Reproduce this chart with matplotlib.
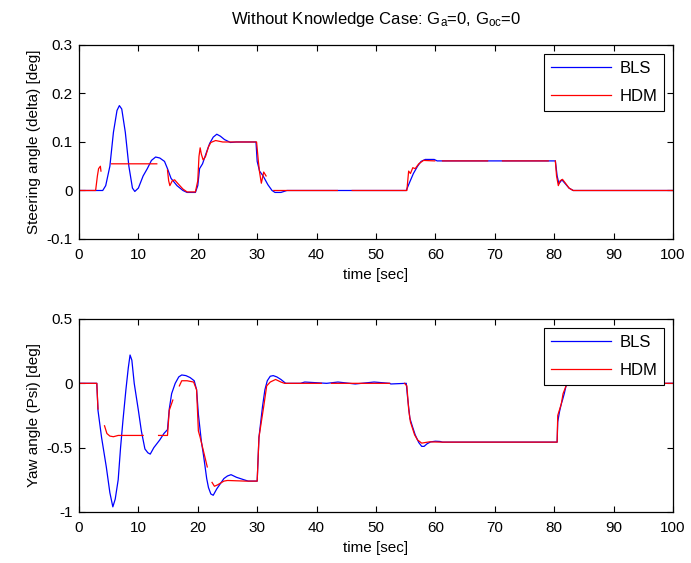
import numpy as np
import matplotlib.pyplot as plt

plt.rcParams['font.family'] = ['Liberation Sans', 'DejaVu Sans']
plt.rcParams['mathtext.fontset'] = 'custom'
plt.rcParams['mathtext.rm'] = 'Liberation Sans'
plt.rcParams['mathtext.it'] = 'Liberation Sans:italic'

nan = np.nan

# steering angle (delta) [deg]
t_bls_d = [0, 4.0, 4.5, 5.2, 5.8, 6.4, 6.8, 7.2, 7.8, 8.4, 9.0, 9.4, 10.0, 10.8, 11.5,
           12.2, 12.9, 13.6, 14.4, 14.9, 15.5, 16.5, 17.5, 18.2, 19.6, 20.0, 20.3, 20.8,
           21.5, 22.0, 22.6, 23.2, 23.8, 24.5, 25.5, 26.5, 29.8, 30.0, 30.4, 31.0, 31.8,
           32.5, 33.0, 34.0, 35.0, 55.1, 55.6, 56.3, 57.0, 57.6, 58.3, 59.8, 60.3, 80.2,
           80.5, 80.8, 81.3, 81.8, 82.5, 83.2, 100]
bls_d = [0, 0, 0.01, 0.05, 0.12, 0.165, 0.175, 0.168, 0.12, 0.05, 0.005, -0.002, 0.005,
         0.03, 0.045, 0.062, 0.069, 0.067, 0.06, 0.045, 0.025, 0.01, 0.0, -0.004, -0.004,
         0.01, 0.045, 0.055, 0.08, 0.097, 0.11, 0.116, 0.112, 0.105, 0.099, 0.1, 0.1, 0.06,
         0.04, 0.03, 0.012, 0.0, -0.004, -0.004, 0.0, 0.0, 0.015, 0.035, 0.05, 0.06, 0.064,
         0.064, 0.061, 0.061, 0.03, 0.014, 0.022, 0.015, 0.005, 0.0, 0]

t_hdm_d = [0, 2.8, 3.1, 3.3, 3.6, 3.7, 3.75,
           5.5, 13.1, 13.15,
           14.9, 15.1, 15.3, 15.7, 16.1, 16.6, 17.5, 18.2, 19.6, 20.0, 20.2, 20.4, 20.6,
           20.9, 21.3, 21.8, 22.2, 23.0, 24.2, 29.9, 30.2, 30.4, 30.7, 31.1, 31.5, 31.55,
           32.8, 43.5, 43.55,
           46.0, 55.2, 55.5, 55.8, 56.2, 56.6, 57.2, 58.0, 59.9, 60.0,
           61.2, 68.8, 68.85,
           71.3, 79.0, 79.05,
           80.2, 80.4, 80.7, 81.0, 81.4, 81.9, 82.5, 83.2, 100]
hdm_d = [0, 0, 0.03, 0.045, 0.05, 0.04, nan,
         0.055, 0.055, nan,
         0.042, 0.02, 0.01, 0.02, 0.022, 0.015, 0.003, -0.003, -0.003, 0.02, 0.07, 0.088,
         0.075, 0.063, 0.07, 0.09, 0.099, 0.103, 0.1, 0.1, 0.06, 0.038, 0.015, 0.038, 0.03, nan,
         0.0, 0.0, nan,
         0.0, 0.0, 0.04, 0.035, 0.047, 0.045, 0.055, 0.062, 0.061, nan,
         0.061, 0.061, nan,
         0.061, 0.061, nan,
         0.061, 0.03, 0.01, 0.02, 0.023, 0.015, 0.005, 0.0, 0]

# yaw angle (Psi) [deg]
t_bls_p = [0, 3.0, 3.2, 3.8, 4.6, 5.2, 5.7, 6.1, 6.6, 7.0, 7.4, 7.9, 8.3, 8.6, 8.9, 9.3,
           10.0, 10.5, 11.1, 11.6, 12.0, 12.6, 13.6, 14.3, 14.9, 15.2, 15.6, 16.2, 16.8,
           17.3, 18.0, 18.7, 19.4, 19.8, 20.1, 20.6, 21.0, 21.5, 21.8, 22.2, 22.6, 23.2,
           23.8, 24.4, 25.0, 25.6, 26.5, 27.8, 28.5, 30.0, 30.3, 30.9, 31.3, 31.7, 32.2,
           32.7, 33.3, 34.0, 34.8, 37.3, 38.0, 41.7, 43.6, 46.5, 49.7, 52.3, 52.5, 55.1,
           55.3, 55.7, 56.1, 56.6, 57.2, 57.7, 58.1, 58.6, 59.2, 60.0, 60.8, 61.2, 80.5,
           80.6, 80.9, 81.2, 81.4, 81.7, 82.0, 82.5, 100]
bls_p = [0, 0, -0.21, -0.42, -0.65, -0.85, -0.96, -0.9, -0.75, -0.5, -0.29, -0.05, 0.12,
         0.22, 0.18, 0.0, -0.21, -0.37, -0.51, -0.54, -0.55, -0.5, -0.44, -0.39, -0.36,
         -0.2, -0.08, 0.0, 0.05, 0.065, 0.06, 0.045, 0.02, -0.05, -0.24, -0.45, -0.57,
         -0.74, -0.81, -0.86, -0.87, -0.82, -0.78, -0.74, -0.72, -0.71, -0.73, -0.75, -0.76,
         -0.76, -0.42, -0.18, -0.05, 0.02, 0.055, 0.06, 0.05, 0.03, 0.0, 0.0, 0.01, 0.0,
         0.01, -0.005, 0.01, 0.0, -0.005, 0.0, -0.1, -0.27, -0.33, -0.40, -0.46, -0.49,
         -0.49, -0.47, -0.455, -0.45, -0.452, -0.457, -0.457, -0.3, -0.22, -0.16, -0.13,
         -0.08, -0.02, 0.0, 0]

t_hdm_p = [0, 3.0, 3.2, 3.25,
           4.3, 4.7, 5.2, 5.8, 6.6, 10.8, 10.85,
           13.4, 14.9, 15.2, 15.8, 15.85,
           16.9, 17.3, 18.2, 19.3, 19.8, 20.1, 20.4, 21.6, 21.65,
           22.4, 22.8, 23.3, 24.4, 25.0, 28.0, 30.0, 30.3, 31.1, 31.6, 32.2, 33.1, 34.0,
           34.6, 40.8, 40.85,
           42.5, 52.3, 52.35,
           54.8, 55.2, 55.5, 55.8, 56.5, 57.0, 57.7, 58.3, 59.0, 61.0, 80.5, 80.6, 81.2,
           81.5, 82.0, 82.6, 100]
hdm_p = [0, 0, -0.2, nan,
         -0.33, -0.39, -0.41, -0.415, -0.405, -0.405, nan,
         -0.405, -0.405, -0.21, -0.13, nan,
         -0.02, 0.02, 0.02, 0.01, -0.05, -0.37, -0.42, -0.65, nan,
         -0.77, -0.8, -0.79, -0.76, -0.755, -0.76, -0.76, -0.42, -0.18, -0.02, 0.01, 0.03,
         0.01, 0.0, 0.0, nan,
         0.0, 0.0, nan,
         0.0, -0.02, -0.2, -0.3, -0.4, -0.44, -0.465, -0.46, -0.455, -0.457, -0.457, -0.25,
         -0.16, -0.08, -0.02, 0.0, 0]

x_ticks = list(range(0, 101, 10))


def style_axes(ax, yticks, ylabels, ylim, ylabel):
    ax.set_xlim(0, 100)
    ax.set_ylim(*ylim)
    ax.set_xticks(x_ticks)
    ax.set_yticks(yticks)
    ax.set_yticklabels(ylabels)
    ax.tick_params(direction='in', top=True, right=True, length=4, width=0.8,
                   labelsize=11)
    ax.tick_params(axis='x', pad=6.5)
    ax.tick_params(axis='y', pad=4.5)
    for s in ax.spines.values():
        s.set_linewidth(0.9)
    ax.set_xlabel('time [sec]', fontsize=11, labelpad=4)
    ax.set_ylabel(ylabel, fontsize=11, labelpad=4)
    ax.legend(loc='upper right', fontsize=12, fancybox=False, edgecolor='black',
              framealpha=1, borderaxespad=0.55, handlelength=3.6, borderpad=0.4,
              labelspacing=0.8, handletextpad=0.5)
    ax.get_legend().get_frame().set_linewidth(0.8)


fig = plt.figure(figsize=(6.91, 5.63), dpi=100)
ax1 = fig.add_axes([0.1143, 0.5755, 0.8596, 0.3446])
ax2 = fig.add_axes([0.1143, 0.0906, 0.8596, 0.3428])

ax1.plot(t_bls_d, bls_d, color='#0000ff', lw=0.9, label='BLS')
ax1.plot(t_hdm_d, hdm_d, color='#ff0000', lw=0.9, label='HDM')
style_axes(ax1, [-0.1, 0, 0.1, 0.2, 0.3], ['-0.1', '0', '0.1', '0.2', '0.3'],
           (-0.1, 0.3), 'Steering angle (delta) [deg]')
ax1.set_title(r'Without Knowledge Case: G$_\mathrm{a}$=0, G$_\mathrm{oc}$=0',
              fontsize=12, pad=15)

ax2.plot(t_bls_p, bls_p, color='#0000ff', lw=0.9, label='BLS')
ax2.plot(t_hdm_p, hdm_p, color='#ff0000', lw=0.9, label='HDM')
style_axes(ax2, [-1, -0.5, 0, 0.5], ['-1', '-0.5', '0', '0.5'],
           (-1, 0.5), 'Yaw angle (Psi) [deg]')

plt.savefig('out.png', dpi=100, facecolor='white')
